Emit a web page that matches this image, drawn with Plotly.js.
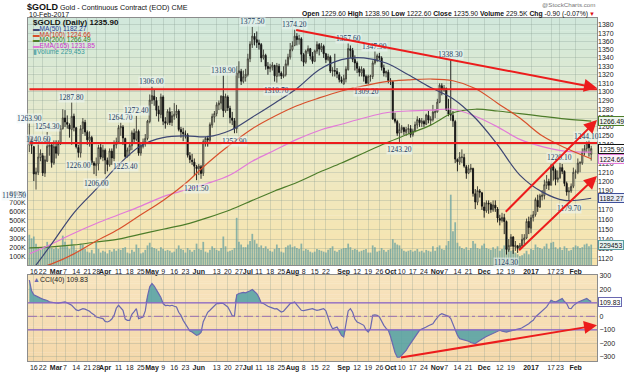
<!DOCTYPE html>
<html>
<head>
<meta charset="utf-8">
<script src="https://cdn.plot.ly/plotly-3.0.1.min.js"></script>
<style>html,body{margin:0;padding:0;background:#fff;}#chart{width:624px;height:372px;}</style>
</head>
<body>
<div id="chart"></div>
<script>
// ================= DATA =================
const firstDay = '2016-02-11', lastDay = '2017-02-10';
const holidays = ['2016-02-15','2016-03-25','2016-05-30','2016-07-04','2016-09-05','2016-11-24','2016-12-26','2017-01-02','2017-01-16'];

const openP = [
 1240,1246,1238,1208,1210,1226,1228,1209,1222,1238,1240,1220,
 1238,1230,1241,1258,1270,1265,1262,1257,1272,1259,1237,1231,1258,1265,1254,1245,1248,1220,1217,1219,1237,1226,
 1234,1223,1218,1233,1225,1240,1243,1259,1260,1247,1227,1234,1239,1253,1246,1255,1231,1238,1243,1247,1266,
 1290,1295,1290,1279,1274,1294,1266,1264,1277,1265,1272,1274,1278,1257,1254,1252,1251,1228,1223,1221,1216,
 1214,1216,1209,1243,1247,1245,1262,1271,1275,1285,1287,1295,1278,1294,1281,1270,1267,1258,1322,1324,1312,1317,
 1320,1339,1356,1366,1362,1358,1356,1340,1343,1330,1327,1329,1331,1318,1330,1322,1318,1320,1332,1341,
 1350,1355,1366,1362,1363,1344,1335,1348,1351,1342,1336,1348,1356,1350,1354,1345,1338,1341,1324,1325,1324,1320,1314,
 1309,1315,1326,1351,1349,1338,1334,1327,1322,1326,1318,1310,1318,1318,1334,1337,1342,1340,1328,1322,1323,
 1313,1312,1269,1266,1253,1257,1259,1254,1257,1258,1251,1255,1262,1268,1264,1266,1263,1273,1267,1268,1276,
 1277,1288,1307,1302,1304,1279,1274,1273,1266,1224,1221,1226,1226,1216,1209,1213,1214,1187,1178,1190,1188,
 1173,1169,1177,1176,1170,1175,1171,1161,1159,1162,1158,1129,1133,1142,1132,1133,1130,1133,1139,1141,1158,
 1151,1162,1165,1180,1173,1184,1185,1196,1200,1196,1216,1212,1202,1204,1215,1211,1198,1189,1190,1195,
 1210,1210,1220,1220,1232,1236,1242,1229.6];
const highP = [
 1263.9,1248.5,1238.5,1215,1240.6,1235,1231,1228,1254.3,1247,1242,1245,
 1245,1245,1262,1280,1279,1273,1264,1287.8,1275,1260,1240,1262,1270,1268,1256,1255,1250,1222,1226,1240,1243,1240,
 1236,1226,1236,1236,1245,1248,1262,1264.7,1262,1248,1237,1243,1256,1258,1272.4,1257,1241,1247,1252,1268,1297,
 1306,1303,1294,1284,1298,1296,1271,1280,1282,1278,1287,1285,1280,1260,1259,1256,1253,1232,1230,1225,1218,
 1219,1218,1246,1249,1250,1265,1275,1278,1288,1290,1296,1318.9,1298,1296,1284,1277,1270,1330,1336,1327,1325,1327,
 1345,1360,1377.5,1370,1372,1362,1358,1350,1345,1335,1333,1335,1332,1334,1333,1324,1330,1338,1345,1358,
 1360,1374.2,1370,1368,1365,1346,1350,1355,1352,1347,1350,1360,1358,1358,1356,1346,1345,1343,1329,1345,1328,1323,1318,
 1320,1330,1357.6,1355,1352,1343,1336,1330,1330,1328,1320,1320,1320,1337,1347.9,1345,1346,1342,1332,1325,1326,
 1316,1313,1276,1268,1264,1262,1260,1260,1263,1262,1258,1266,1272,1270,1270,1268,1275,1278,1272,1285,1280,
 1292,1310,1310,1308,1305,1292,1338.3,1278,1268,1225,1232,1235,1230,1218,1218,1219,1215,1192,1195,1192,1189,
 1178,1180,1180,1178,1180,1180,1173,1165,1167,1166,1159,1140,1145,1143,1138,1134,1136,1145,1145,1161,1163,
 1165,1169,1183,1186,1187,1191,1202,1207,1203,1219,1218,1214,1212,1220.1,1219,1212,1200,1194,1198,1215,
 1213,1225,1222,1236,1240,1244.1,1245,1238.9];
const lowP = [
 1232,1230,1200.6,1191.5,1207,1222,1206,1205,1221,1228,1215,1218,
 1225,1228,1240,1257,1260,1258,1248,1240,1255,1236,1226,1226,1252,1250,1240,1238,1218,1208,1206,1212,1224,1222,
 1208,1211,1216,1218,1222,1236,1242,1250,1240,1225.4,1226,1228,1234,1242,1244,1228,1228,1236,1238,1245,1264,
 1286,1284,1272,1266,1270,1262,1258,1262,1262,1261,1268,1270,1255,1248,1244,1247,1226,1220,1218,1206,1201.5,
 1207,1203,1206,1238,1238,1243,1259,1265,1272,1279,1280,1271,1276,1278,1264,1262,1252.9,1253,1316,1308,1310,1312,
 1318,1335,1352,1355,1352,1350,1335,1338,1326,1320,1323,1325,1312,1310.7,1318,1315,1316,1318,1330,1338,
 1348,1354,1355,1356,1336,1330,1333,1345,1338,1333,1335,1345,1343,1347,1340,1334,1336,1322,1318,1318,1316,1311,1310,
 1309.5,1311,1325,1340,1335,1325,1322,1318,1318,1312,1309.2,1309.5,1312,1315,1332,1335,1337,1325,1318,1317,1310,
 1308,1268,1264,1250,1243.2,1253,1251,1250,1252,1248,1249,1254,1258,1260,1260,1260,1262,1264,1262,1266,1270,
 1276,1287,1296,1300,1278,1272,1267,1260,1220,1211,1218,1220,1215,1203,1208,1210,1184,1171,1175,1183,1170,
 1162,1167,1166,1167,1168,1168,1157,1154,1157,1145,1124.3,1127,1132,1125,1128,1126,1129,1132,1135,1140,1145,
 1146,1158,1163,1168,1172,1180,1181,1192,1191,1196,1201,1196,1199,1203,1208,1195,1185,1179.7,1188,1193,
 1203,1208,1210,1218,1228,1232,1227,1222.6];
const closeP = [
 1247.8,1239.4,1208.2,1210.4,1226.6,1230.8,1209.3,1223.6,1238.5,1240.3,1220.5,1238.1,
 1230.7,1241.4,1258.2,1270.1,1265.6,1262.9,1257.6,1272,1259.4,1237.9,1231.6,1258,1265.8,1254.3,1245.5,1248.7,1220.6,1217.5,1219.4,1237,1226.6,1234.2,
 1223.2,1218.5,1233.3,1225.6,1240,1243.1,1259.1,1260.6,1247.6,1227.2,1234.3,1239.3,1253.4,1246.3,1255,1230.9,1238.8,1243.1,1247.2,1266.5,1290.5,
 1295.8,1290.9,1278.9,1274.6,1294.1,1266.3,1264.2,1277.7,1264.9,1272.7,1274.4,1278.1,1257.1,1254.3,1252.4,1251.7,1228.6,1223.8,1221.9,1216.6,1213.9,
 1216.7,1208.8,1243.5,1247.2,1245.4,1262.6,1271.8,1275.1,1285.1,1287.1,1295.1,1278.4,1294.8,1281.6,1270.5,1267.5,1258,1322,1324.7,1312.5,1317.6,1320.6,
 1339,1356.6,1366.3,1362.2,1358.7,1356.1,1340,1343.6,1330.2,1327.3,1329.2,1331.6,1318.8,1330.9,1322.7,1318.7,1320.2,1332.9,1341,1350,
 1355,1366.3,1362.2,1363.2,1344.4,1334.9,1348.2,1351.1,1342.4,1335.9,1348.5,1356.3,1350.6,1354,1345,1338,1341.8,1324.4,1325.3,1324.3,1320.9,1314.3,1312,
 1315.7,1326.7,1351.3,1349,1338.3,1334,1327.7,1322.9,1326.6,1318.1,1310.2,1318.1,1318.6,1334,1337.9,1342.6,1340.3,1328.7,1322.1,1323.8,1313.3,
 1312.9,1269,1266.4,1253,1257,1259.5,1254.8,1257.1,1258.1,1251.5,1255.5,1262.6,1268.3,1264.8,1266.7,1263.4,1273.6,1267.8,1268.7,1276.8,1277.4,
 1288.2,1307.8,1302.6,1304.5,1279.3,1274.5,1273.5,1266.8,1224.3,1221.4,1226.6,1226.6,1216.7,1209,1213.7,1214.6,1187.4,1178.4,1190.5,1188.5,1173.9,
 1169.4,1177.5,1176.3,1170.4,1175.3,1171.9,1161.6,1159.3,1162.3,1158,1129.5,1133.6,1142.1,1132.6,1133.7,1130.8,1133.6,1139.6,1141.2,1158.1,1151.7,
 1162,1165,1180.9,1173.4,1184.9,1185.6,1196.7,1200,1196,1216.9,1212.1,1202.4,1204,1215.3,1211,1198,1189,1190,1195,1210,
 1210.5,1220,1220.3,1232,1236,1242,1236.8,1235.9];
// volume in thousands
const volumeK = [
 340,300,320,240,200,170,190,210,260,200,190,180,
 200,180,210,330,260,210,180,290,220,170,160,240,230,180,150,140,170,130,250,180,140,160,
 150,130,170,150,180,160,180,170,190,200,140,130,170,150,230,190,130,140,170,220,250,
 200,190,180,160,200,180,160,170,160,140,150,180,220,180,170,140,190,170,150,170,240,
 180,170,260,150,140,170,210,190,170,160,190,320,210,150,160,170,190,530,260,230,200,200,
 230,270,350,280,240,200,220,190,210,180,160,150,180,230,190,150,140,200,220,230,
 200,210,190,180,240,160,180,170,150,140,150,180,170,160,150,140,170,190,210,160,150,170,180,
 190,190,240,200,170,180,170,150,160,170,180,140,140,220,200,150,160,190,170,150,170,
 180,290,250,230,220,180,160,150,160,170,150,160,180,150,160,140,170,160,150,210,160,
 200,220,180,170,220,270,790,380,480,250,210,190,180,200,170,190,270,240,190,180,220,
 240,190,180,170,200,180,210,160,180,220,310,180,160,170,140,120,100,110,130,160,120,
 180,170,230,200,190,180,210,240,180,250,260,200,180,200,170,210,190,160,170,200,
 220,210,190,200,230,240,210,229.453];
const cci40 = [
 269,190,160,150,140,135,128,125,118,108,104,100,
 99,98,102,108,107,100,90,82,65,48,42,52,57,53,45,38,22,12,-5,-8,-14,-17,
 -38,-42,-35,-20,7,60,82,65,45,-20,-30,-30,15,35,57,-17,-10,-5,40,150,219,
 244,225,200,169,140,95,80,82,78,82,75,70,30,7,-30,-60,-90,-110,-117,-130,-142,
 -135,-120,-40,-10,30,45,60,80,95,95,98,95,85,70,40,5,0,160,170,175,178,175,
 180,190,199,185,169,140,99,95,82,75,68,62,55,57,45,32,38,60,82,95,
 100,107,85,60,45,42,45,48,55,57,50,45,48,55,57,40,-17,-60,-92,-85,-80,-110,-142,
 -154,-67,40,57,30,-20,-42,-50,-60,-67,-100,-117,-90,7,10,7,-5,-40,-67,-90,-104,
 -150,-216,-270,-304,-304,-290,-270,-254,-225,-200,-170,-154,-125,-104,-95,-90,-80,-70,-60,-55,-30,
 -5,10,20,15,7,0,-17,-60,-104,-140,-166,-170,-175,-179,-185,-195,-200,-204,-190,-179,-165,
 -160,-150,-142,-135,-125,-115,-108,-104,-110,-115,-117,-112,-108,-106,-104,-100,-92,-85,-75,-67,-55,
 -40,-30,-5,10,20,40,55,70,95,119,112,107,115,125,132,110,95,60,57,80,
 95,105,112,119,125,132,120,109.83];

// moving averages read at sample dates
const maDates = ['2016-02-11','2016-02-26','2016-03-11','2016-03-28','2016-04-11','2016-04-25','2016-05-09','2016-05-23','2016-06-07','2016-06-21','2016-07-06','2016-07-20','2016-08-03','2016-08-17','2016-08-31','2016-09-15','2016-09-29','2016-10-13','2016-10-27','2016-11-10','2016-11-25','2016-12-09','2016-12-23','2017-01-10','2017-01-25','2017-02-10'];
const ma50   = [1105,1135,1167,1192,1218,1239,1248,1250,1249,1256,1271,1287,1304,1326,1338,1340,1334,1320,1305,1292,1270,1240,1207,1189,1180,1182.27];
const ma100  = [1108,1115,1125,1138,1150,1165,1180,1198,1220,1240,1258,1272,1284,1293,1301,1307,1312,1314,1315,1313,1304,1287,1270,1250,1237,1224.66];
const ma200  = [1131,1132,1134,1137,1140,1145,1150,1155,1162,1170,1180,1190,1199,1210,1220,1231,1242,1252,1262,1276,1280,1278,1275,1272,1269,1266.49];
const ema165 = [1125,1135,1146,1156,1165,1174,1184,1191,1198,1207,1222,1234,1246,1256,1263,1270,1276,1278,1279,1280,1272,1260,1246,1238,1233,1231.85];

const tickDates = ['2016-02-16','2016-02-22','2016-03-01','2016-03-07','2016-03-14','2016-03-21','2016-03-28','2016-04-01','2016-04-11','2016-04-18','2016-04-25','2016-05-02','2016-05-09','2016-05-16','2016-05-23','2016-06-01','2016-06-13','2016-06-20','2016-06-27','2016-07-01','2016-07-11','2016-07-18','2016-07-25','2016-08-01','2016-08-08','2016-08-15','2016-08-22','2016-09-01','2016-09-12','2016-09-19','2016-09-26','2016-10-03','2016-10-10','2016-10-17','2016-10-24','2016-11-01','2016-11-07','2016-11-14','2016-11-21','2016-12-01','2016-12-12','2016-12-19','2017-01-03','2017-01-17','2017-01-23','2017-02-01'];
const tickText = ['16','22','Mar','7','14','21','28','Apr','11','18','25','May','9','16','23','Jun','13','20','27','Jul','11','18','25','Aug','8','15','22','Sep','12','19','26','Oct','10','17','24','Nov','7','14','21','Dec','12','19','2017','17','23','Feb'];
const boldTicks = ['Mar','Apr','May','Jun','Jul','Aug','Sep','Oct','Nov','Dec','2017','Feb'];

const priceTicks = [1120,1130,1140,1150,1160,1170,1180,1190,1200,1210,1220,1230,1240,1250,1260,1270,1280,1290,1300,1310,1320,1330,1340,1350,1360,1370,1380];
const volTicks = [100,200,300,400,500,600,700,800];
const cciTicks = [-300,-200,-100,0,100,200,300];

// pivot labels (date, value, h = high / l = low)
const pivotDates  = ['2016-02-11','2016-02-18','2016-02-17','2016-02-24','2016-03-10','2016-03-15','2016-03-28','2016-04-12','2016-04-14','2016-04-21','2016-05-02','2016-05-31','2016-06-16','2016-06-23','2016-07-06','2016-07-21','2016-08-02','2016-09-06','2016-09-16','2016-09-22','2016-10-07','2016-11-09','2016-12-15','2017-01-23','2017-01-27','2017-02-08'];
const pivotValues = [1263.90,1240.60,1191.50,1254.30,1287.80,1226.00,1206.00,1264.70,1225.40,1272.40,1306.00,1201.50,1318.90,1252.90,1377.50,1310.70,1374.20,1357.60,1309.20,1347.90,1243.20,1338.30,1124.30,1220.10,1179.70,1244.10];
const pivotSide   = ['h','h','l','h','h','l','l','h','l','h','h','l','h','l','h','l','h','h','l','h','l','h','l','h','l','h'];

// hand-drawn trend lines: [startDate, startValue, endDate(or null = right edge), endValue, arrow]
const priceLines = [
  ['2016-08-02',1374.2, null,1304.6, true],
  [null,1303, null,1303, false],
  [null,1242, null,1242, false],
  ['2016-12-14',1166.5, null,1267.8, true],
  ['2016-12-22',1127.3, null,1206.0, true]
];
const cciLines = [['2016-10-07',-308, null,-67, true]];

// ================= BUILD =================
function tradingDays(a, b) {
  const out = []; const d = new Date(a + 'T00:00:00Z'); const e = new Date(b + 'T00:00:00Z');
  while (d <= e) {
    const wd = d.getUTCDay(); const s = d.toISOString().slice(0, 10);
    if (wd !== 0 && wd !== 6 && holidays.indexOf(s) < 0) out.push(s);
    d.setUTCDate(d.getUTCDate() + 1);
  }
  return out;
}
const dates = tradingDays(firstDay, lastDay);
const N = dates.length;
const iOf = d => dates.indexOf(d);

const W = 624, H = 372;
const X0 = 28, X1 = 597, PT = 18, PB = 265, CT = 275, CB = 361;
const px = x => x / W, py = y => 1 - y / H;
const xRange = [-0.6, N - 1 + 2.6];
const pLo = 1113.9, pHi = 1388.6;
const volTop = (PB - PT) / 0.089;
const L10 = Math.log10;

const FONT = 'Liberation Sans, Arial, sans-serif';
const cMA50 = '#3d4673', cMA100 = '#d8502c', cMA200 = '#4d7d2a', cEMA = '#e27ad8', cVol = 'rgba(98,158,160,0.72)';
const cRed = '#ec1c1c';

const traces = [];
traces.push({type:'bar', x:dates, y:volumeK, xaxis:'x', yaxis:'y', marker:{color:cVol, line:{width:0}}, hoverinfo:'skip', showlegend:false});
traces.push({type:'candlestick', x:dates, open:openP, high:highP, low:lowP, close:closeP, xaxis:'x', yaxis:'y2',
  increasing:{line:{color:'#3b3b32', width:0.9}, fillcolor:'rgba(235,235,215,0.6)'},
  decreasing:{line:{color:'#111', width:0.9}, fillcolor:'#111'},
  whiskerwidth:0, hoverinfo:'skip', showlegend:false});
const maLine = (y, c) => ({type:'scatter', mode:'lines', x:maDates, y:y, xaxis:'x', yaxis:'y2', line:{color:c, width:1.2, shape:'spline', smoothing:1}, hoverinfo:'skip', showlegend:false});
traces.push(maLine(ma200, cMA200), maLine(ema165, cEMA), maLine(ma100, cMA100), maLine(ma50, cMA50));

const up = cci40.map(v => Math.max(v, 100)), dn = cci40.map(v => Math.min(v, -100));
const fillCol = 'rgba(80,160,165,0.85)';
traces.push({type:'scatter', mode:'lines', x:dates, y:dates.map(()=>100), xaxis:'x2', yaxis:'y3', line:{width:0}, hoverinfo:'skip', showlegend:false});
traces.push({type:'scatter', mode:'lines', x:dates, y:up, xaxis:'x2', yaxis:'y3', line:{width:0}, fill:'tonexty', fillcolor:fillCol, hoverinfo:'skip', showlegend:false});
traces.push({type:'scatter', mode:'lines', x:dates, y:dates.map(()=>-100), xaxis:'x2', yaxis:'y3', line:{width:0}, hoverinfo:'skip', showlegend:false});
traces.push({type:'scatter', mode:'lines', x:dates, y:dn, xaxis:'x2', yaxis:'y3', line:{width:0}, fill:'tonexty', fillcolor:fillCol, hoverinfo:'skip', showlegend:false});
traces.push({type:'scatter', mode:'lines', x:dates, y:cci40, xaxis:'x2', yaxis:'y3', line:{color:'#6a68b0', width:1.2}, hoverinfo:'skip', showlegend:false});

const shapes = [];
function lerp(a, b, t) { return a.map((v, i) => Math.round(v + (b[i] - v) * t)); }
function grad(top, bottom, stops) {
  const n = 40;
  for (let i = 0; i < n; i++) {
    const y0 = top + (bottom - top) * i / n, y1 = top + (bottom - top) * (i + 1) / n;
    const t = (i + 0.5) / n;
    const c = t < 0.5 ? lerp(stops[0], stops[1], t / 0.5) : lerp(stops[1], stops[2], (t - 0.5) / 0.5);
    shapes.push({type:'rect', xref:'paper', yref:'paper', x0:px(X0), x1:px(X1), y0:py(y1) - 0.0005, y1:py(y0) + 0.0005,
      fillcolor:`rgb(${c[0]},${c[1]},${c[2]})`, line:{width:0}, layer:'below'});
  }
}
grad(PT, PB, [[208,232,219],[235,234,201],[248,228,172]]);
grad(CT, CB, [[247,228,190],[246,222,181],[244,216,170]]);
[[100,'solid'],[-100,'solid'],[0,'dashdot']].forEach(([v, d]) => {
  shapes.push({type:'line', xref:'paper', yref:'y3', x0:px(X0), x1:px(X1), y0:v, y1:v, line:{color: v===0?'#9a6fb0':'#8a62c8', width: v===0?1:1.3, dash:d}, layer:'above'});
});

const ann = [];
function txt(x, y, text, size, color, anchor, extra) {
  return Object.assign({xref:'paper', yref:'paper', x:px(x), y:py(y), text:text, showarrow:false, xanchor:anchor||'left', yanchor:'middle',
    font:{family:FONT, size:size, color:color||'#000'}}, extra||{});
}
const last = N - 1;
const f2 = v => v.toFixed(2);
// header
ann.push(txt(25, 7.5, '<span style="font-size:9px"><b>$GOLD</b></span> Gold - Continuous Contract (EOD) CME', 7.2, '#111'));
ann.push(txt(27, 14.5, '10-Feb-2017', 7, '#111'));
ann.push(txt(597, 4.5, '@StockCharts.com', 6.2, '#777', 'right'));
const chg = closeP[last] - closeP[last - 1];
ann.push(txt(590, 14.5, `<b>Open</b> ${f2(openP[last])} <b>High</b> ${f2(highP[last])} <b>Low</b> ${f2(lowP[last])} <b>Close</b> ${f2(closeP[last])} <b>Volume</b> ${volumeK[last].toFixed(1)}K <b>Chg</b> ${f2(chg)} (${(chg/closeP[last-1]*100).toFixed(2)}%)`, 6.8, '#111', 'right'));
ann.push(txt(597, 14.5, '▼', 6, '#d11', 'right'));
// legend
ann.push(txt(31, 23, `<b>$GOLD (Daily) ${f2(closeP[last])}</b>`, 8, '#111'));
const leg = [['MA(50) ' + f2(ma50[ma50.length-1]), '#2b3c9a', cMA50], ['MA(100) ' + f2(ma100[ma100.length-1]), '#d2391a', cMA100], ['MA(200) ' + f2(ma200[ma200.length-1]), '#2e7d22', cMA200], ['EMA(165) ' + f2(ema165[ema165.length-1]), '#cc33cc', cEMA]];
leg.forEach((l, i) => ann.push(txt(31, 29 + i * 5.7, `<span style="color:${l[2]}">▬</span>${l[0]}`, 6.6, l[1])));
ann.push(txt(31, 29 + 4 * 5.7, `<span style="color:#6aa">▮</span>Volume ${Math.round(volumeK[last]*1000).toLocaleString('en-US')}`, 6.6, '#3a9a9a'));
ann.push(txt(31, 280, `<span style="color:#6a68b0">▲</span>CCI(40) ${f2(cci40[last])}`, 7, '#222'));

pivotDates.forEach((d, k) => {
  const hi = pivotSide[k] === 'h';
  const a = {xref:'x', yref:'y2', x:iOf(d), y:L10(pivotValues[k]), text:pivotValues[k].toFixed(2), showarrow:false,
    xanchor:'center', yanchor:'middle', yshift: hi ? 5 : -8,
    font:{family:'Liberation Serif, Times New Roman, serif', size:7.5, color:'#1d3c63'}, bgcolor:'rgba(236,246,246,0.55)', borderpad:0};
  if (d === '2016-02-17') { a.xanchor = 'right'; a.xshift = -9; a.yshift = -6; }
  ann.push(a);
});

function addLine(l, yref, conv) {
  const x0 = l[0] ? iOf(l[0]) : xRange[0], x1 = l[2] ? iOf(l[2]) : xRange[1];
  ann.push({xref:'x', yref:yref, axref:'x', ayref:yref, x:x1, y:conv(l[3]), ax:x0, ay:conv(l[1]), text:'', showarrow:true,
    arrowhead: l[4] ? 2 : 0, arrowsize: 1.3, arrowwidth: 2, arrowcolor: cRed, standoff:0, startstandoff:0});
}
priceLines.forEach(l => addLine(l, 'y2', L10));
cciLines.forEach(l => addLine(l, 'y3', v => v));

function tag(yref, yv, text, border, bg, col) {
  ann.push({xref:'paper', yref:yref, x:px(X1) + 0.001, y:yv, text:text, showarrow:false, xanchor:'left', yanchor:'middle',
    font:{family:FONT, size:6.8, color:col||'#111'}, bgcolor:bg||'#fff', bordercolor:border, borderwidth:1, borderpad:0.5});
}
tag('y2', L10(ma200[ma200.length-1]), f2(ma200[ma200.length-1]), cMA200, '#eef6ee');
tag('y2', L10(closeP[last]), f2(closeP[last]), '#111', '#fff');
tag('y2', L10(ma100[ma100.length-1]), f2(ma100[ma100.length-1]), cEMA, '#fbeefb');
tag('y2', L10(ma50[ma50.length-1]), f2(ma50[ma50.length-1]), '#3d4f9a', '#e8ecf8');
tag('y', volumeK[last], String(Math.round(volumeK[last]*1000)), '#5a9ea0', '#e4f2f2');
tag('y3', cci40[last], f2(cci40[last]), '#6a68b0', '#fff');

const gridC = 'rgba(130,150,140,0.28)';
const axFont = {family:FONT, size:7, color:'#222'};
const tt = tickText.map(t => boldTicks.indexOf(t) >= 0 ? '<b>' + t + '</b>' : t);

const layout = {
  width:W, height:H, margin:{l:0, r:0, t:0, b:0}, autosize:false,
  paper_bgcolor:'#fff', plot_bgcolor:'rgba(0,0,0,0)', showlegend:false, hovermode:false,
  bargap:0.22,
  xaxis:{type:'category', domain:[px(X0), px(X1)], anchor:'y', range:xRange, tickmode:'array', tickvals:tickDates, ticktext:tt,
    tickfont:{family:FONT, size:7, color:'#222'}, ticks:'', showgrid:true, gridcolor:gridC, gridwidth:1,
    showline:true, mirror:true, linecolor:'#8c8c8c', linewidth:1, rangeslider:{visible:false}, fixedrange:true, tickangle:0},
  yaxis:{domain:[py(PB), py(PT)], anchor:'x', side:'left', range:[0, volTop], tickmode:'array', tickvals:volTicks,
    ticktext:volTicks.map(v => v + 'K'), tickfont:axFont, ticks:'', showgrid:false, zeroline:false,
    showline:true, mirror:true, linecolor:'#8c8c8c', fixedrange:true},
  yaxis2:{overlaying:'y', anchor:'x', side:'right', type:'log', range:[L10(pLo), L10(pHi)], tickmode:'array', tickvals:priceTicks,
    ticktext:priceTicks.map(String), tickfont:axFont, ticks:'', showgrid:true, gridcolor:gridC, zeroline:false, fixedrange:true},
  xaxis2:{type:'category', matches:'x', domain:[px(X0), px(X1)], anchor:'y3', range:xRange, tickmode:'array', tickvals:tickDates, ticktext:tt,
    tickfont:{family:FONT, size:7, color:'#222'}, ticks:'', showgrid:true, gridcolor:gridC,
    showline:true, mirror:true, linecolor:'#8c8c8c', fixedrange:true, tickangle:0},
  yaxis3:{domain:[py(CB), py(CT)], anchor:'x2', side:'right', range:[-332, 307], tickmode:'array', tickvals:cciTicks,
    tickfont:axFont, ticks:'', showgrid:true, gridcolor:gridC, zeroline:false, showline:true, mirror:true, linecolor:'#8c8c8c', fixedrange:true},
  shapes:shapes, annotations:ann
};
Plotly.newPlot('chart', traces, layout, {staticPlot:true, displayModeBar:false});
</script>
</body>
</html>
